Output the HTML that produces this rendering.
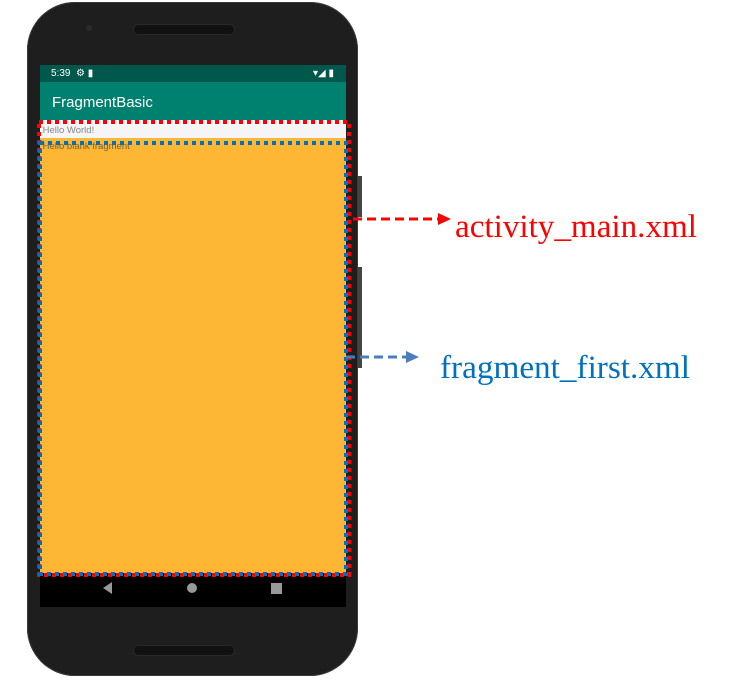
<!DOCTYPE html>
<html><head><meta charset="utf-8"><style>
body{margin:0;width:740px;height:687px;background:#fff;position:relative;overflow:hidden;font-family:"Liberation Sans",sans-serif}
.a{position:absolute}
</style></head><body>
<div class="a" style="left:27px;top:2px;width:331px;height:674px;background:#1e1e1e;border-radius:48px;box-shadow:0 0 0 1px #3a3a3a inset"></div>
<div class="a" style="left:358px;top:176px;width:4px;height:41px;background:#444"></div>
<div class="a" style="left:358px;top:267px;width:4px;height:101px;background:#444"></div>
<div class="a" style="left:133px;top:24px;width:100px;height:9px;background:#111;border-radius:5px;border:1px solid #2a2a2a"></div>
<div class="a" style="left:86px;top:25px;width:6px;height:6px;background:#2b2b2b;border-radius:50%"></div>
<div class="a" style="left:133px;top:645px;width:100px;height:9px;background:#111;border-radius:5px;border:1px solid #2a2a2a"></div>
<div class="a" style="left:40px;top:65px;width:306px;height:542px;background:#000"></div>
<div class="a" style="left:40px;top:65px;width:306px;height:17px;background:#00574b;color:#fff;font-size:10px;line-height:17px"><span style="margin-left:11px">5:39 &nbsp;⚙ ▮</span><span style="position:absolute;right:12px">▾◢ ▮</span></div>
<div class="a" style="left:40px;top:82px;width:306px;height:38px;background:#00806f;color:#fff;font-size:15px;line-height:42px"><span style="margin-left:12px">FragmentBasic</span></div>
<div class="a" style="left:40px;top:120px;width:306px;height:18px;background:#f5f5f5;color:#888;font-size:9.5px;line-height:22px">&nbsp;Hello World!</div>
<div class="a" style="left:40px;top:138px;width:306px;height:435px;background:#fdb735;color:#7a6030;font-size:9.5px;line-height:18px">&nbsp;Hello blank fragment</div>
<div class="a" style="left:103px;top:582px;width:0;height:0;border-top:6px solid transparent;border-bottom:6px solid transparent;border-right:9px solid #999"></div>
<div class="a" style="left:187px;top:583px;width:10px;height:10px;background:#999;border-radius:50%"></div>
<div class="a" style="left:271px;top:583px;width:11px;height:11px;background:#999"></div>
<svg class="a" style="left:0;top:0" width="740" height="687">
<rect x="39" y="122" width="310" height="453" fill="none" stroke="#f00" stroke-width="4" stroke-dasharray="4,4"/>
<rect x="40" y="143" width="306" height="431" fill="none" stroke="#0070c0" stroke-width="4" stroke-dasharray="4,4"/>
<line x1="353" y1="219" x2="440" y2="219" stroke="#f00" stroke-width="3" stroke-dasharray="9,5"/>
<polygon points="438,213 451,219 438,225" fill="#f00"/>
<line x1="346" y1="357" x2="408" y2="357" stroke="#4a7ebb" stroke-width="3" stroke-dasharray="9,5"/>
<polygon points="406,351 419,357 406,363" fill="#4a7ebb"/>
<text x="455" y="237" font-family="Liberation Serif" font-size="33" fill="#f00" textLength="242" lengthAdjust="spacingAndGlyphs">activity_main.xml</text>
<text x="440" y="378" font-family="Liberation Serif" font-size="33" fill="#0070c0" textLength="250" lengthAdjust="spacingAndGlyphs">fragment_first.xml</text>
</svg>
</body></html>
